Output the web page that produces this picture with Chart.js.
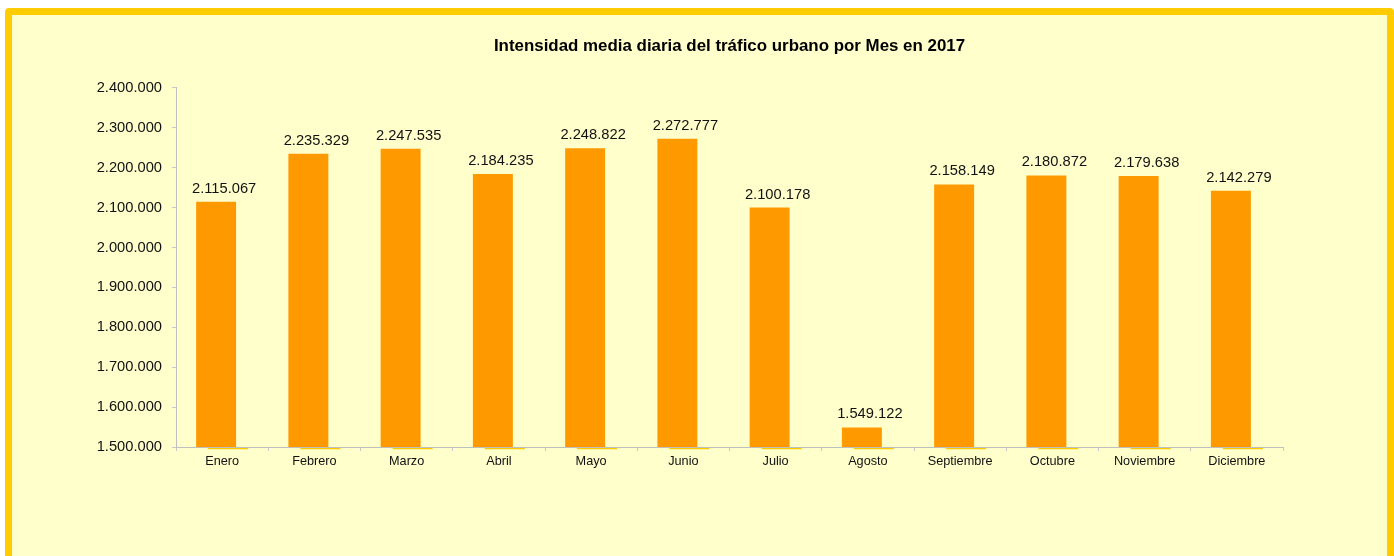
<!DOCTYPE html>
<html>
<head>
<meta charset="utf-8">
<script src="https://cdn.jsdelivr.net/npm/chart.js@4"></script>
<style>
  html, body { margin: 0; padding: 0; width: 1394px; height: 556px; overflow: hidden; background: #ffffff; }
  #marco {
    position: absolute; left: 5px; top: 8px; width: 1375px; height: 600px;
    background: #ffffcc; border: 7px solid #ffcc00; border-radius: 4px;
  }
  #grafico { position: absolute; left: 0; top: 0; }
</style>
</head>
<body>
<div id="marco"></div>
<canvas id="grafico" width="1394" height="556"></canvas>
<script>
// datos del grafico
const meses = ["Enero", "Febrero", "Marzo", "Abril", "Mayo", "Junio", "Julio", "Agosto", "Septiembre", "Octubre", "Noviembre", "Diciembre"];
const intensidad = [2115067, 2235329, 2247535, 2184235, 2248822, 2272777, 2100178, 1549122, 2158149, 2180872, 2179638, 2142279];
// segunda serie casi nula (solo se ve una raya bajo el eje)
const serie2 = meses.map(() => [1494500, 1497500]);
const ejeMin = 1500000;
const ejeMax = 2400000;
const ejePaso = 100000;

const fuente = "'Liberation Sans', Arial, sans-serif";

const formato = (v) => String(Math.round(v)).replace(/\B(?=(\d{3})+(?!\d))/g, ".");

// etiquetas de valor encima de cada barra
const etiquetas = {
  id: "etiquetas",
  afterDatasetsDraw(chart) {
    const ctx = chart.ctx;
    const meta = chart.getDatasetMeta(0);
    const x = chart.scales.x;
    ctx.save();
    ctx.font = "14.7px " + fuente;
    ctx.fillStyle = "#111111";
    ctx.textAlign = "center";
    ctx.textBaseline = "alphabetic";
    meta.data.forEach((bar, i) => {
      ctx.fillText(formato(intensidad[i]), x.getPixelForValue(i) + 2, bar.y - 9);
    });
    ctx.restore();
  }
};

new Chart(document.getElementById("grafico"), {
  type: "bar",
  data: {
    labels: meses,
    datasets: [
      {
        data: intensidad,
        backgroundColor: "#ff9900",
        borderWidth: 0,
        categoryPercentage: 0.26,
        barPercentage: 3.333
      },
      {
        data: serie2,
        backgroundColor: "#ffcc00",
        borderWidth: 0,
        categoryPercentage: 0.26,
        barPercentage: 3.333,
        clip: false
      }
    ]
  },
  options: {
    responsive: false,
    animation: false,
    layout: { padding: { left: 0, right: 111, top: 0, bottom: 79 } },
    plugins: {
      legend: { display: false },
      tooltip: { enabled: false },
      title: {
        display: true,
        fullSize: false,
        text: "Intensidad media diaria del tráfico urbano por Mes en 2017",
        color: "#000000",
        font: { family: fuente, size: 16.9, weight: "bold" },
        padding: { top: 36, bottom: 31.7 }
      }
    },
    scales: {
      x: {
        afterFit: (s) => { s.height = 30; },
        grid: { display: true, drawOnChartArea: false, offset: true, tickLength: 4, color: "#c8c8c8" },
        border: { color: "#bfbfbf", width: 1 },
        ticks: { color: "#111111", font: { family: fuente, size: 12.7 }, padding: 3, maxRotation: 0 }
      },
      y: {
        min: ejeMin,
        max: ejeMax,
        afterFit: (s) => { s.width = 176; },
        grid: { display: true, drawOnChartArea: false, tickLength: 4, color: "#c8c8c8" },
        border: { color: "#bfbfbf", width: 1 },
        ticks: {
          stepSize: ejePaso,
          color: "#111111",
          font: { family: fuente, size: 14.7 },
          padding: 10,
          callback: (v) => formato(v)
        }
      }
    }
  },
  plugins: [etiquetas]
});
</script>
</body>
</html>
